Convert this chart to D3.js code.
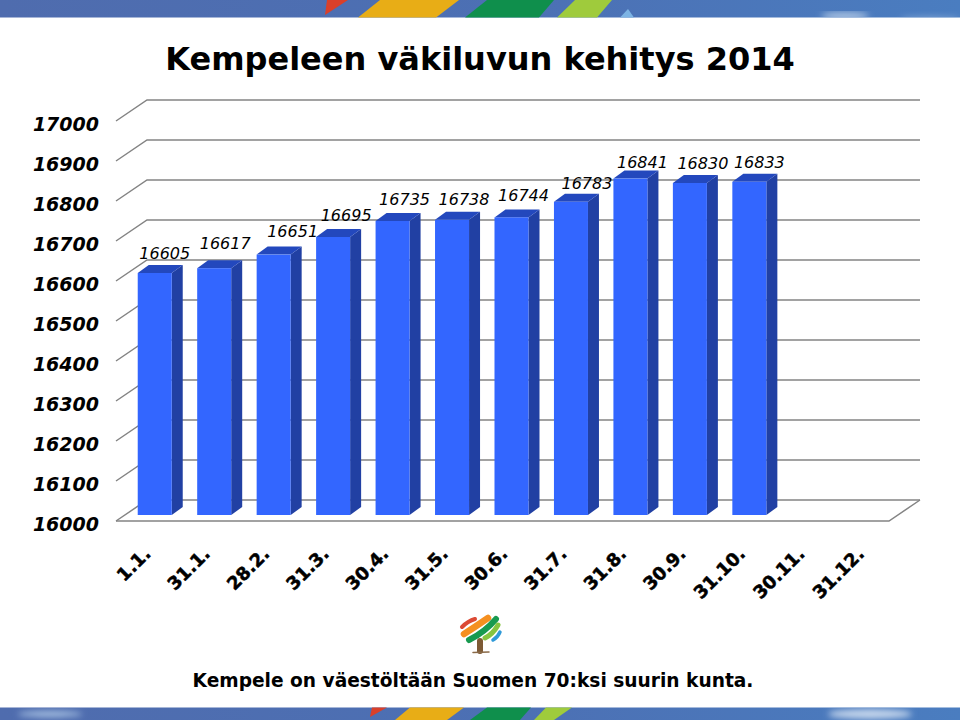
<!DOCTYPE html>
<html>
<head>
<meta charset="utf-8">
<style>
  html, body { margin: 0; padding: 0; background: #fff; }
  text { fill: #000; }
</style>
<script src="https://d3js.org/d3.v7.min.js"></script>
</head>
<body>
<div id="chart"></div>
<script>
const categories = ['1.1.', '31.1.', '28.2.', '31.3.', '30.4.', '31.5.', '30.6.', '31.7.', '31.8.', '30.9.', '31.10.', '30.11.', '31.12.'];
const population = [16605, 16617, 16651, 16695, 16735, 16738, 16744, 16783, 16841, 16830, 16833];
const yTicks = [16000, 16100, 16200, 16300, 16400, 16500, 16600, 16700, 16800, 16900, 17000];

// hand placed label offsets, the original labels wander a bit
const labelDx = [1, 2, 10, 4, 3, 3, 3, 7, 3, 4, 1];
const labelDy = [1, -4, -3, -1, -1, 0, -1, 2, 4, 1, 1];

const width = 960;
const height = 720;
const depthX = 31;
const depthY = 21;
const barDepthX = 11;
const barDepthY = 8;

const svg = d3.select('#chart').append('svg')
  .attr('width', width)
  .attr('height', height)
  .style('display', 'block');

const defs = svg.append('defs');
const grad = defs.append('linearGradient').attr('id', 'band');
grad.append('stop').attr('offset', '0%').attr('stop-color', '#4f6cae');
grad.append('stop').attr('offset', '55%').attr('stop-color', '#4c70b4');
grad.append('stop').attr('offset', '100%').attr('stop-color', '#4a7dc0');
defs.append('filter').attr('id', 'soft').append('feGaussianBlur').attr('stdDeviation', 3);

const poly = (g, pts, color) => g.append('polygon').attr('points', pts).attr('fill', color);

const drawTopBand = () => {
  const g = svg.append('g');
  g.append('rect').attr('width', width).attr('height', 17.5).attr('fill', 'url(#band)');
  const clip = defs.append('clipPath').attr('id', 'topclip');
  clip.append('rect').attr('width', width).attr('height', 17.5);
  const clouds = g.append('g').attr('clip-path', 'url(#topclip)').attr('filter', 'url(#soft)');
  clouds.append('ellipse').attr('cx', 845).attr('cy', 16).attr('rx', 24).attr('ry', 4).attr('fill', '#a9c2e2');
  clouds.append('ellipse').attr('cx', 930).attr('cy', 19).attr('rx', 30).attr('ry', 2).attr('fill', '#8fb0d9');
  poly(g, '325,15 327,0 348,0', '#d9402a');
  poly(g, '358,17.5 380,0 459,0 436,17.5', '#e8ad16');
  poly(g, '465,17.5 487,0 554,0 539,17.5', '#0f8f4c');
  poly(g, '557,17.5 575,0 612,0 597,17.5', '#9fcb3c');
  poly(g, '620,17.5 628,9 634,17.5', '#7db4e4');
};

const drawBottomBand = () => {
  const g = svg.append('g');
  g.append('rect').attr('y', 707.5).attr('width', width).attr('height', 12.5).attr('fill', 'url(#band)');
  const clip = defs.append('clipPath').attr('id', 'botclip');
  clip.append('rect').attr('y', 707.5).attr('width', width).attr('height', 12.5);
  const clouds = g.append('g').attr('clip-path', 'url(#botclip)').attr('filter', 'url(#soft)');
  clouds.append('ellipse').attr('cx', 50).attr('cy', 714).attr('rx', 32).attr('ry', 3).attr('fill', '#a9c3e3');
  clouds.append('ellipse').attr('cx', 870).attr('cy', 714).attr('rx', 42).attr('ry', 5).attr('fill', '#c4d6ec');
  poly(g, '370,717 372,707.5 387,707.5', '#d9402a');
  poly(g, '395,720 410,707.5 464,707.5 447,720', '#e8ad16');
  poly(g, '470,720 487,707.5 531,707.5 520,720', '#0f8f4c');
  poly(g, '534,720 546,707.5 572,707.5 554,720', '#9fcb3c');
};

const drawLogo = () => {
  const g = svg.append('g').attr('fill', 'none').attr('stroke-linecap', 'round');
  const stroke = (d, color, w) => g.append('path').attr('d', d).attr('stroke', color).attr('stroke-width', w);
  stroke('M480,641 L480,651', '#7d5a35', 6);
  stroke('M473,652.5 L489,652', '#8a6a48', 1.5);
  stroke('M462,627 Q468,621 475,619', '#dc4a35', 4);
  stroke('M464,634 Q475,627 488,618', '#f59020', 6.5);
  stroke('M469,640 Q485,632 496,619', '#189a50', 6);
  stroke('M485,638 Q493,634 498,625', '#86c440', 5);
  stroke('M493,640 Q498,637 500,632', '#2f9ad8', 3.5);
};

const y = d3.scaleLinear().domain([16000, 17000]).range([500, 100]);
const x = d3.scaleBand().domain(categories).range([125, 898]).paddingInner(0.428).paddingOuter(0.214);

const drawGrid = () => {
  const g = svg.append('g').attr('stroke', '#848484').attr('stroke-width', 1.5).attr('fill', 'none');
  g.selectAll('path.grid').data(yTicks).join('path')
    .attr('class', 'grid')
    .attr('d', d => `M${147 - depthX},${y(d) + depthY}L147,${y(d)}L920,${y(d)}`);
  g.append('path')
    .attr('d', `M116,${y(16000) + depthY}L${920 - depthX},${y(16000) + depthY}L920,${y(16000)}`);
};

const drawBars = () => {
  const base = y(16000) + 15;
  const bw = x.bandwidth();
  const bars = svg.append('g').selectAll('g').data(population).join('g');
  const barTop = d => base - (y(16000) - y(d));
  const left = (d, i) => x(categories[i]);

  bars.append('path').attr('fill', '#2140a3')
    .attr('d', (d, i) => {
      const r = left(d, i) + bw;
      return `M${r},${barTop(d)}l${barDepthX},${-barDepthY}L${r + barDepthX},${base - barDepthY}L${r},${base}Z`;
    });
  bars.append('path').attr('fill', '#2348bd')
    .attr('d', (d, i) => {
      const l = left(d, i);
      return `M${l},${barTop(d)}l${barDepthX},${-barDepthY}h${bw}l${-barDepthX},${barDepthY}Z`;
    });
  bars.append('rect').attr('fill', '#3366ff')
    .attr('x', left)
    .attr('y', barTop)
    .attr('width', bw)
    .attr('height', d => base - barTop(d));

  svg.append('g').selectAll('text').data(population).join('text')
    .attr('x', (d, i) => left(d, i) + bw / 2 + 9 + labelDx[i])
    .attr('y', (d, i) => barTop(d) - 15 + labelDy[i])
    .attr('text-anchor', 'middle')
    .style('font', 'italic 16px "DejaVu Sans"')
    .text(d => d);
};

const drawAxisLabels = () => {
  svg.append('g').selectAll('text').data(yTicks).join('text')
    .attr('x', 99)
    .attr('y', d => y(d) + 31)
    .attr('text-anchor', 'end')
    .style('font', 'italic bold 19px "DejaVu Sans"')
    .text(d => d);

  svg.append('g').selectAll('text').data(categories).join('text')
    .attr('transform', d => `translate(${x(d) + 14},${555}) rotate(-45)`)
    .attr('text-anchor', 'end')
    .style('font', 'bold 18px "DejaVu Sans"')
    .style('stroke', '#000')
    .style('stroke-width', 0.5)
    .text(d => d);
};

drawTopBand();
drawBottomBand();
drawGrid();
drawBars();
drawAxisLabels();
drawLogo();

svg.append('text')
  .attr('x', 480).attr('y', 70)
  .attr('text-anchor', 'middle')
  .style('font', 'bold 32px "DejaVu Sans"')
  .text('Kempeleen väkiluvun kehitys 2014');

svg.append('text')
  .attr('x', 473).attr('y', 687)
  .attr('text-anchor', 'middle')
  .style('font', 'bold 18.6px "DejaVu Sans"')
  .text('Kempele on väestöltään Suomen 70:ksi suurin kunta.');
</script>
</body>
</html>
